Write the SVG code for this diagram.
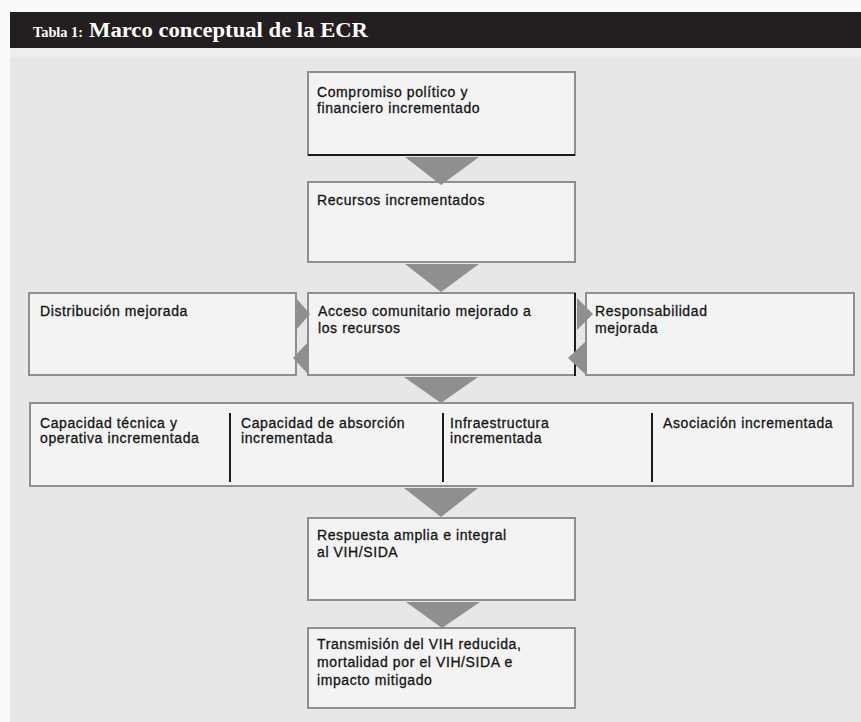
<svg xmlns="http://www.w3.org/2000/svg" width="861" height="722" viewBox="0 0 861 722">
<style>
.bg{fill:#e7e7e7}
.box{fill:#f3f3f3;stroke:#8f8f8f;stroke-width:2}
.t{font-family:"Liberation Sans","Noto Sans",sans-serif;font-size:14px;fill:#141414;stroke:#141414;stroke-width:0.3;letter-spacing:0.6px}
.arr{fill:#8f8f8f}
.dark{stroke:#1a1a1a;stroke-width:2;fill:none}
</style>
<rect x="0" y="0" width="861" height="722" fill="#fafafa"/>
<rect class="bg" x="10" y="47" width="851" height="675"/>
<rect x="10" y="48" width="851" height="10" fill="#eeeeee"/>
<g id="title">
<rect x="10" y="12" width="851" height="36" fill="#231f20"/>
<text x="33" y="37" font-family="'Liberation Serif',serif" font-weight="bold" font-size="14" fill="#ffffff" textLength="50" lengthAdjust="spacingAndGlyphs">Tabla 1:</text>
<text x="89" y="37" font-family="'Liberation Serif',serif" font-weight="bold" font-size="20" fill="#ffffff" textLength="279" lengthAdjust="spacingAndGlyphs">Marco conceptual de la ECR</text>
</g>
<g id="n1">
<rect class="box" x="308" y="72" width="267" height="83"/>
<line class="dark" x1="308" y1="155" x2="575" y2="155"/>
<text class="t" x="317" y="97">Compromiso político y</text>
<text class="t" x="317" y="113">financiero incrementado</text>
</g>
<g id="n2">
<rect class="box" x="308" y="182" width="267" height="80"/>
<text class="t" x="317" y="205">Recursos incrementados</text>
</g>
<g id="n3">
<rect class="box" x="29" y="293" width="267" height="82"/>
<text class="t" x="40" y="316">Distribución mejorada</text>
</g>
<g id="n4">
<rect class="box" x="308" y="293" width="267" height="82"/>
<line class="dark" x1="575" y1="293" x2="575" y2="376"/>
<text class="t" x="318" y="316">Acceso comunitario mejorado a</text>
<text class="t" x="318" y="333">los recursos</text>
</g>
<g id="n5">
<rect class="box" x="586" y="293" width="268" height="82"/>
<text class="t" x="595" y="316">Responsabilidad</text>
<text class="t" x="595" y="333">mejorada</text>
</g>
<g id="n6">
<rect class="box" x="30" y="403" width="823" height="83"/>
<line class="dark" x1="230" y1="413" x2="230" y2="482"/>
<line class="dark" x1="443" y1="413" x2="443" y2="482"/>
<line class="dark" x1="652" y1="413" x2="652" y2="482"/>
<text class="t" x="40" y="428">Capacidad técnica y</text>
<text class="t" x="40" y="443">operativa incrementada</text>
<text class="t" x="241" y="428">Capacidad de absorción</text>
<text class="t" x="241" y="443">incrementada</text>
<text class="t" x="450" y="428">Infraestructura</text>
<text class="t" x="450" y="443">incrementada</text>
<text class="t" x="663" y="428">Asociación incrementada</text>
</g>
<g id="n7">
<rect class="box" x="308" y="518" width="267" height="82"/>
<text class="t" x="317" y="540">Respuesta amplia e integral</text>
<text class="t" x="317" y="557">al VIH/SIDA</text>
</g>
<g id="n8">
<rect class="box" x="308" y="628" width="267" height="80"/>
<text class="t" x="317" y="649">Transmisión del VIH reducida,</text>
<text class="t" x="317" y="667">mortalidad por el VIH/SIDA e</text>
<text class="t" x="317" y="685">impacto mitigado</text>
</g>
<g id="connectors">
<polygon class="arr" points="405,157 479,157 441,185"/>
<polygon class="arr" points="405,264 479,264 441,292"/>
<polygon class="arr" points="404,377 478,377 441,403"/>
<polygon class="arr" points="404,488 478,488 441,517"/>
<polygon class="arr" points="406,602 480,602 442,628"/>
<polygon class="arr" points="296,298 296,330 310,314"/>
<polygon class="arr" points="308,342 308,374 293,358"/>
<polygon class="arr" points="577,298 577,330 593,314"/>
<polygon class="arr" points="585,342 585,374 568,358"/>
</g>
</svg>
